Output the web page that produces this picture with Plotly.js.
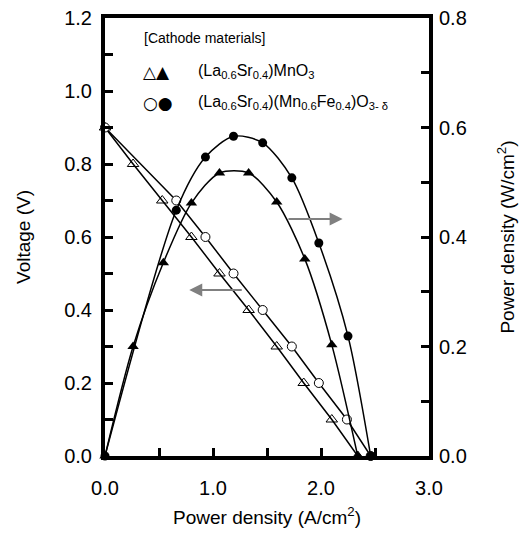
<!DOCTYPE html>
<html><head><meta charset="utf-8">
<script src="https://cdn.plot.ly/plotly-3.0.1.min.js"></script>
<style>body{margin:0;padding:0;background:#fff}#chart{width:530px;height:535px}</style>
</head><body><div id="chart"></div>
<script>
// Current density (A/cm2) and voltage (V) for LSM
const lsmCurrent = [0, 0.26, 0.53, 0.80, 1.06, 1.33, 1.59, 1.84, 2.10, 2.34];
const lsmVoltage = [0.90, 0.80, 0.70, 0.60, 0.50, 0.40, 0.30, 0.20, 0.10, 0.0];
// Power density (W/cm2) for LSM
const lsmPowerCurrent = [0, 0.26, 0.54, 0.80, 1.06, 1.33, 1.59, 1.85, 2.10, 2.34];
const lsmPower = [0.0, 0.20, 0.353, 0.462, 0.517, 0.517, 0.464, 0.36, 0.203, 0.0];
// LSMF
const lsmfCurrent = [0, 0.66, 0.93, 1.19, 1.46, 1.73, 1.98, 2.24, 2.46];
const lsmfVoltage = [0.90, 0.70, 0.60, 0.50, 0.40, 0.30, 0.20, 0.10, 0.0];
const lsmfPowerCurrent = [0, 0.66, 0.93, 1.19, 1.46, 1.73, 1.98, 2.25, 2.46];
const lsmfPower = [0.0, 0.449, 0.546, 0.584, 0.572, 0.508, 0.389, 0.219, 0.0];

const F = 'Liberation Sans, Arial, sans-serif';
const lineStyle = {color: '#000', width: 1.5};

const traces = [
  {x: lsmCurrent, y: lsmVoltage, mode: 'lines+markers', yaxis: 'y', line: lineStyle,
   marker: {symbol: 'triangle-up-open', size: 10, color: '#000', line: {width: 1}}, cliponaxis: false},
  {x: lsmfCurrent, y: lsmfVoltage, mode: 'lines+markers', yaxis: 'y', line: lineStyle,
   marker: {symbol: 'circle', size: 9, color: '#fff', line: {width: 1, color: '#000'}}, cliponaxis: false},
  {x: lsmPowerCurrent, y: lsmPower, mode: 'lines+markers', yaxis: 'y2', line: Object.assign({shape: 'spline', smoothing: 0.8}, lineStyle),
   marker: {symbol: 'triangle-up', size: 10, color: '#000'}, cliponaxis: false},
  {x: lsmfPowerCurrent, y: lsmfPower, mode: 'lines+markers', yaxis: 'y2', line: Object.assign({shape: 'spline', smoothing: 0.8}, lineStyle),
   marker: {symbol: 'circle', size: 9, color: '#000'}, cliponaxis: false}
];

const axisCommon = {
  showline: true, linewidth: 4, linecolor: '#000', ticks: 'inside', ticklen: 8, tickwidth: 3,
  tickcolor: '#000', showgrid: false, zeroline: false, tickfont: {family: F, size: 20, color: '#000'},
  tickformat: '.1f'
};

const layout = {
  width: 530, height: 535,
  margin: {l: 105, r: 101, t: 18, b: 79},
  paper_bgcolor: '#fff', plot_bgcolor: '#fff',
  showlegend: false,
  font: {family: F, color: '#000'},
  xaxis: Object.assign({}, axisCommon, {
    range: [0, 3.0], dtick: 1.0, mirror: true, ticklabelstandoff: 11,
    minor: {dtick: 0.5, ticks: 'inside', ticklen: 8, tickwidth: 3, tickcolor: '#000', showgrid: false},
    title: {text: 'Power density (A/cm<sup>2</sup>)', font: {family: F, size: 19, color: '#000'}, standoff: 14}
  }),
  yaxis: Object.assign({}, axisCommon, {
    range: [0, 1.2], dtick: 0.2, ticklabelstandoff: 5,
    minor: {dtick: 0.1, ticks: 'inside', ticklen: 8, tickwidth: 3, tickcolor: '#000', showgrid: false},
    title: {text: 'Voltage (V)', font: {family: F, size: 19, color: '#000'}, standoff: 30}
  }),
  yaxis2: Object.assign({}, axisCommon, {
    range: [0, 0.8], dtick: 0.2, overlaying: 'y', side: 'right', ticklabelstandoff: 2,
    minor: {dtick: 0.1, ticks: 'inside', ticklen: 8, tickwidth: 3, tickcolor: '#000', showgrid: false},
    title: {text: 'Power density (W/cm<sup>2</sup>)', font: {family: F, size: 19, color: '#000'}, standoff: 36}
  }),
  annotations: [
    {x: 2.20, y: 0.649, ax: 1.685, ay: 0.649, xref: 'x', yref: 'y', axref: 'x', ayref: 'y',
     text: '', showarrow: true, arrowhead: 2, arrowsize: 1.3, arrowwidth: 2, arrowcolor: '#808080', standoff: 0, startstandoff: 0},
    {x: 0.78, y: 0.455, ax: 1.28, ay: 0.455, xref: 'x', yref: 'y', axref: 'x', ayref: 'y',
     text: '', showarrow: true, arrowhead: 2, arrowsize: 1.3, arrowwidth: 2, arrowcolor: '#808080', standoff: 0, startstandoff: 0},
    {xref: 'paper', yref: 'paper', x: 0.115, y: 0.954, xanchor: 'left', yanchor: 'middle', showarrow: false,
     text: '[Cathode materials]', font: {family: F, size: 14, color: '#000'}},
    {xref: 'paper', yref: 'paper', x: 0.11, y: 0.877, xanchor: 'left', yanchor: 'middle', showarrow: false,
     text: '△▲', font: {family: 'DejaVu Sans', size: 17, color: '#000'}},
    {xref: 'paper', yref: 'paper', x: 0.28, y: 0.877, xanchor: 'left', yanchor: 'middle', showarrow: false,
     text: '(La<sub>0.6</sub>Sr<sub>0.4</sub>)MnO<sub>3</sub>', font: {family: F, size: 16, color: '#000'}},
    {xref: 'paper', yref: 'paper', x: 0.11, y: 0.806, xanchor: 'left', yanchor: 'middle', showarrow: false,
     text: '○●', font: {family: 'DejaVu Sans', size: 17, color: '#000'}},
    {xref: 'paper', yref: 'paper', x: 0.28, y: 0.806, xanchor: 'left', yanchor: 'middle', showarrow: false,
     text: '(La<sub>0.6</sub>Sr<sub>0.4</sub>)(Mn<sub>0.6</sub>Fe<sub>0.4</sub>)O<sub>3- δ</sub>', font: {family: F, size: 16, color: '#000'}}
  ]
};

Plotly.newPlot('chart', traces, layout, {staticPlot: true});
</script>
</body></html>
